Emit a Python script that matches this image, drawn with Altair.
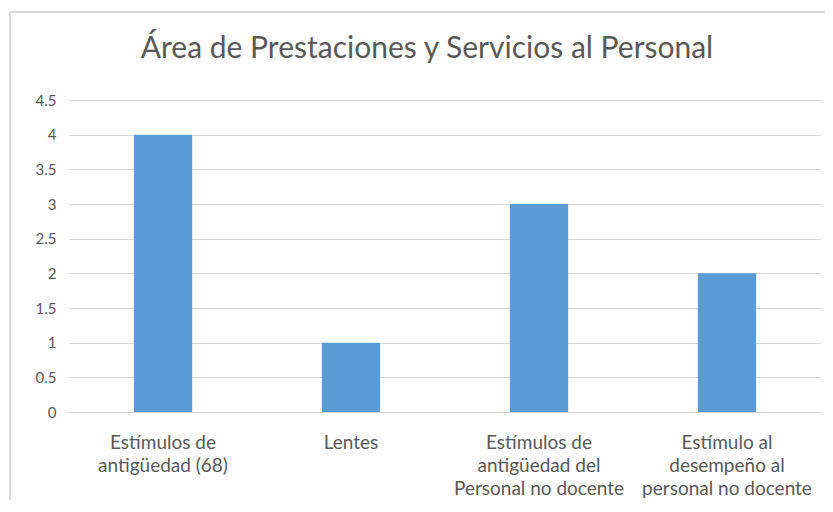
import altair as alt
import pandas as pd

categories = [
    "Estímulos de\nantigüedad (68)",
    "Lentes",
    "Estímulos de\nantigüedad del\nPersonal no docente",
    "Estímulo al\ndesempeño al\npersonal no docente",
]
values = [4, 1, 3, 2]
y_ticks = [0, 0.5, 1, 1.5, 2, 2.5, 3, 3.5, 4, 4.5]

df = pd.DataFrame({"cat": categories, "val": values})

TEXT = "#595959"
GRID = "#d9d9d9"
FONT = "Lato"

bars = alt.Chart(df).mark_bar(color="#5B9BD5").encode(
    x=alt.X(
        "cat:N",
        sort=categories,
        title=None,
        scale=alt.Scale(paddingInner=0.69, paddingOuter=0.345),
        axis=alt.Axis(
            labelAngle=0,
            labelExpr="split(datum.label, '\\n')",
            labelFontSize=19,
            labelColor=TEXT,
            labelFont=FONT,
            labelLineHeight=23,
            labelPadding=21,
            labelBaseline="top",
            ticks=False,
            domainColor=GRID,
            labelLimit=300,
        ),
    ),
    y=alt.Y(
        "val:Q",
        title=None,
        scale=alt.Scale(domain=[0, 4.5], nice=False),
        axis=alt.Axis(
            values=y_ticks,
            format=".1~f",
            labelFontSize=15,
            labelColor=TEXT,
            labelFont=FONT,
            labelPadding=13,
            ticks=False,
            domain=False,
            gridColor=GRID,
            gridWidth=1,
        ),
    ),
)

frame = alt.Chart(df).mark_rect(
    fill=None, stroke=GRID, strokeWidth=1.5, clip=False
).encode(
    x=alt.value(-59), x2=alt.value(800), y=alt.value(-88), y2=alt.value(420)
)

chart = alt.layer(frame, bars).properties(
    width=752,
    height=312,
    autosize=alt.AutoSizeParams(type="none"),
    padding={"left": 61, "top": 92, "right": 4, "bottom": 88},
    title=alt.Title(
        "Área de Prestaciones y Servicios al Personal",
        fontSize=30,
        font=FONT,
        fontWeight="normal",
        color=TEXT,
        anchor="middle",
        dx=-18,
        offset=-77,
        baseline="alphabetic",
    ),
).configure_view(stroke=None)

chart.save("out.html", embed_options={"renderer": "svg", "actions": False})
